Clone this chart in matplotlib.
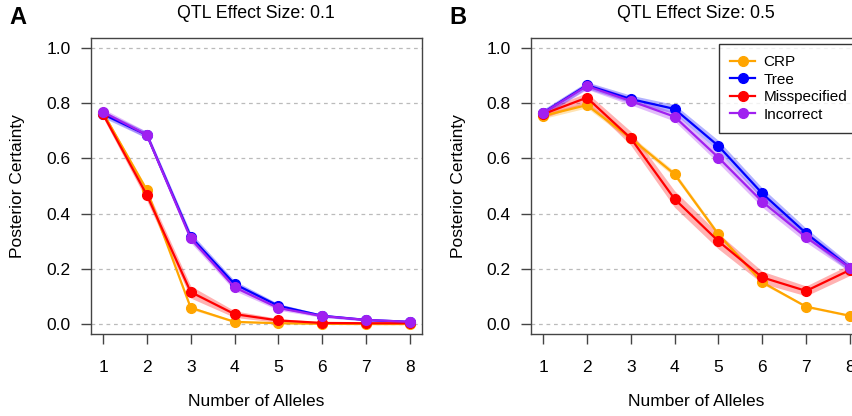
import numpy as np
import matplotlib
matplotlib.use("Agg")
import matplotlib.pyplot as plt

plt.rcParams['font.family'] = ['Liberation Sans', 'DejaVu Sans']

alleles = [1, 2, 3, 4, 5, 6, 7, 8]
series_names = ['CRP', 'Tree', 'Misspecified', 'Incorrect']
series_colors = ['#FFA500', '#0000FF', '#FF0000', '#A020F0']

# panel A, effect size 0.1
crp_01 = [0.765, 0.485, 0.059, 0.008, 0.003, 0.001, 0.000, 0.000]
tree_01 = [0.760, 0.685, 0.316, 0.145, 0.066, 0.030, 0.015, 0.008]
mis_01 = [0.760, 0.467, 0.116, 0.036, 0.013, 0.004, 0.003, 0.003]
inc_01 = [0.768, 0.685, 0.310, 0.133, 0.058, 0.029, 0.015, 0.008]
band_crp_01 = [0.006, 0.008, 0.006, 0.003, 0.002, 0.001, 0.001, 0.001]
band_tree_01 = [0.012, 0.012, 0.015, 0.012, 0.008, 0.005, 0.004, 0.003]
band_mis_01 = [0.012, 0.020, 0.022, 0.012, 0.007, 0.004, 0.003, 0.003]
band_inc_01 = [0.012, 0.012, 0.015, 0.012, 0.008, 0.005, 0.004, 0.003]

# panel B, effect size 0.5
crp_05 = [0.754, 0.793, 0.673, 0.543, 0.325, 0.151, 0.063, 0.030]
tree_05 = [0.765, 0.865, 0.815, 0.779, 0.645, 0.473, 0.329, 0.204]
mis_05 = [0.760, 0.820, 0.673, 0.453, 0.300, 0.169, 0.120, 0.196]
inc_05 = [0.764, 0.862, 0.808, 0.751, 0.603, 0.443, 0.314, 0.204]
band_crp_05 = [0.010, 0.010, 0.010, 0.010, 0.008, 0.006, 0.004, 0.003]
band_tree_05 = [0.012, 0.012, 0.014, 0.016, 0.020, 0.020, 0.018, 0.015]
band_mis_05 = [0.014, 0.018, 0.025, 0.030, 0.028, 0.022, 0.018, 0.020]
band_inc_05 = [0.012, 0.012, 0.014, 0.016, 0.020, 0.020, 0.018, 0.015]

panels = [
    ('A', 'QTL Effect Size: 0.1', [crp_01, tree_01, mis_01, inc_01],
     [band_crp_01, band_tree_01, band_mis_01, band_inc_01]),
    ('B', 'QTL Effect Size: 0.5', [crp_05, tree_05, mis_05, inc_05],
     [band_crp_05, band_tree_05, band_mis_05, band_inc_05]),
]

W, H = 852, 416
fig = plt.figure(figsize=(W / 100, H / 100), dpi=100)

lefts = [91, 531]
for i, (letter, title, vals, bands) in enumerate(panels):
    x0 = lefts[i]
    ax = fig.add_axes([x0 / W, (H - 334) / H, 331 / W, 296 / H])
    for name, col, v, b in zip(series_names, series_colors, vals, bands):
        v = np.array(v)
        b = np.array(b)
        ax.fill_between(alleles, v - b, v + b, color=col, alpha=0.3, lw=0)
        ax.plot(alleles, v, color=col, lw=1.6, marker='o', ms=7, label=name)
    ax.set_xlim(0.726, 8.274)
    ax.set_ylim(-0.036, 1.036)
    ax.set_xticks(alleles)
    ax.set_yticks([0.0, 0.2, 0.4, 0.6, 0.8, 1.0])
    ax.set_yticklabels(['0.0', '0.2', '0.4', '0.6', '0.8', '1.0'])
    for y in [0.0, 0.2, 0.4, 0.6, 0.8, 1.0]:
        ax.axhline(y, color='#bbbbbb', lw=0.9, ls=(0, (3, 3)), zorder=0)
    for s in ax.spines.values():
        s.set_color('#444444')
        s.set_linewidth(1.0)
    ax.tick_params(direction='out', length=7.5, width=1.0, color='#444444',
                   labelsize=12.5)
    ax.tick_params(axis='x', pad=11)
    ax.tick_params(axis='y', pad=7)
    fig.text((x0 + 165) / W, 1 - 14 / H, title, ha='center', va='center',
             fontsize=12.8)
    fig.text((x0 - 73) / W, 1 - 17 / H, letter, ha='center', va='center',
             fontsize=17, fontweight='bold')
    fig.text((x0 - 73) / W, 1 - 186 / H, 'Posterior Certainty', rotation=90,
             ha='center', va='center', fontsize=12.5)
    fig.text((x0 + 165) / W, 1 - 402 / H, 'Number of Alleles', ha='center',
             va='center', fontsize=12.5)
    if i == 1:
        leg = fig.legend(*ax.get_legend_handles_labels(), loc='upper left',
                         bbox_to_anchor=(719 / W, 1 - 44 / H),
                         fontsize=11, frameon=True, fancybox=False,
                         handlelength=1.6, borderpad=0.75, labelspacing=0.22,
                         handletextpad=0.55, borderaxespad=0)
        leg.get_frame().set_edgecolor('black')
        leg.get_frame().set_linewidth(1.0)

fig.savefig('out.png', dpi=100)
